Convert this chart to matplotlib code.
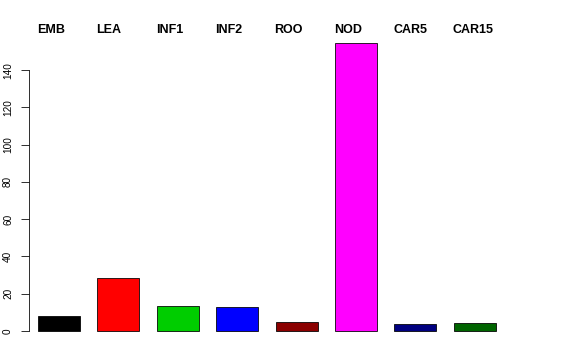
import matplotlib
matplotlib.use("Agg")
import matplotlib.pyplot as plt

# tissue labels and values
tissues = ["EMB", "LEA", "INF1", "INF2", "ROO", "NOD", "CAR5", "CAR15"]
values = [8.0, 28.4, 13.4, 12.9, 4.6, 154.5, 3.9, 4.3]
colors = ["#000000", "#FF0000", "#00CD00", "#0000FF", "#8B0000", "#FF00FF", "#000080", "#006400"]

plt.rcParams["font.family"] = ["Liberation Sans", "DejaVu Sans"]

fig = plt.figure(figsize=(8, 5), dpi=72)
ax = fig.add_axes([29 / 576, 18 / 360, 491 / 576, 312 / 360])

xs = list(range(len(tissues)))
width = 0.707
ax.bar(xs, values, width=width, color=colors, edgecolor="black", linewidth=0.8)

ax.set_xlim(-0.505, 7.76)
ax.set_ylim(-5.9, 161.5)

for s in ["top", "right", "bottom"]:
    ax.spines[s].set_visible(False)
ax.spines["left"].set_bounds(0, 140)
ax.spines["left"].set_linewidth(0.8)
ax.set_xticks([])
ax.set_yticks(range(0, 141, 20))
ax.tick_params(axis="y", length=8, width=0.8, labelsize=10, pad=8)
for lab in ax.get_yticklabels():
    lab.set_rotation(90)
    lab.set_va("center")

# names across the top, starting at each bar's left edge
for x, name in zip(xs, tissues):
    ax.text(x - width / 2 - 0.02, 1.0, name, transform=ax.get_xaxis_transform(),
            ha="left", va="center", fontsize=12.5, fontweight="bold")

fig.savefig("out.png", dpi=72)
